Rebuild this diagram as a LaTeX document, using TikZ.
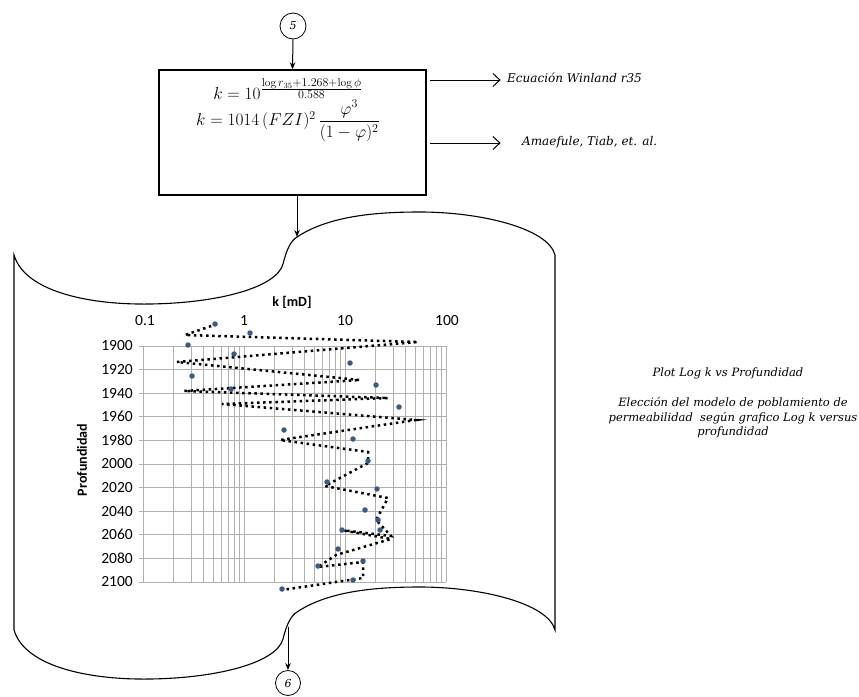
\documentclass[tikz,border=0pt]{standalone}
\usepackage{fontspec}
\usepackage{amsmath}
\usetikzlibrary{arrows.meta,calc}
\newfontfamily\chartfont{Carlito}
\newfontfamily\noteserif{DejaVu Serif}
\definecolor{dotblue}{RGB}{60,90,130}
\definecolor{gridgray}{RGB}{175,175,175}
\begin{document}
\begin{tikzpicture}[x=1pt,y=-1pt,
  vflow/.style={line width=1pt,-{Stealth[length=7pt,width=5.5pt]}},
  hflow/.style={line width=1pt,-{Straight Barb[length=7pt,width=13pt]}},
  connector/.style={circle,draw,line width=0.8pt,minimum size=26pt,inner sep=0pt,font=\noteserif\itshape\fontsize{11}{13}\selectfont},
  procbox/.style={draw,line width=1.3pt,minimum width=267pt,minimum height=125pt,inner sep=0pt},
  note/.style={font=\noteserif\itshape\fontsize{12}{14}\selectfont,inner sep=0pt},
  sidenote/.style={font=\noteserif\itshape\fontsize{11.5}{14.5}\selectfont,inner sep=0pt,align=center},
  docline/.style={line width=1.1pt},
  gridline/.style={draw=gridgray,line width=0.9pt},
  tick/.style={font=\chartfont\fontsize{15.5}{17}\selectfont,inner sep=0pt},
  axtitle/.style={font=\chartfont\bfseries\fontsize{14}{16}\selectfont,inner sep=0pt},
  datadot/.style={circle,fill=dotblue,inner sep=0pt,minimum size=5.5pt},
  trend/.style={line width=2.5pt,dash pattern=on 2.5pt off 3.6pt}
]
\useasboundingbox (0,0) rectangle (859,696);

% connector 5, process box
\node[connector] (c5) at (293,26) {5};
\node[procbox] (box) at (292.5,132.5) {};
\node (f1) at (288,89) {\fontsize{16.5}{18}\selectfont$k=10^{\frac{\scriptstyle\log r_{35}+1.268+\log\phi}{\scriptstyle 0.588}}$};
\node (f2) at (288,121) {\fontsize{16.5}{18}\selectfont$k=1014\,(FZI)^{2}\,\dfrac{\varphi^{3}}{(1-\varphi)^{2}}$};
\draw[vflow] (c5.south) -- (box.north);

% side labels
\node[note,anchor=west] (lab1) at (507,78) {Ecuación Winland r35};
\node[note,anchor=west] (lab2) at (522,142) {Amaefule, Tiab, et. al.};
\draw[hflow] ($(box.east |- lab1.west)+(3,2)$) -- ($(box.east |- lab1.west)+(74,2)$);
\draw[hflow] ($(box.east |- lab2.west)+(3,1)$) -- ($(box.east |- lab2.west)+(74,1)$);

% document (tape) shape
\coordinate (docin) at (297,237);
\coordinate (docout) at (288,627);
\draw[docline] (14,255) .. controls (25,292) and (90,305) .. (150,304)
  .. controls (220,303) and (277,287) .. (283,264)
  .. controls (287,248) and (291,241) .. (297,237)
  .. controls (330,215) and (380,212) .. (420,212)
  .. controls (480,212) and (548,228) .. (555,255)
  -- (555,630)
  .. controls (548,603) and (480,587) .. (420,587)
  .. controls (380,587) and (330,590) .. (297,612)
  .. controls (291,616) and (287,623) .. (283,639)
  .. controls (277,662) and (220,678) .. (150,679)
  .. controls (90,680) and (25,667) .. (14,630)
  -- cycle;
\draw[vflow] (box.south -| docin) -- (docin);
\node[connector,minimum size=25pt] (c6) at (288,683) {6};
\draw[vflow] (docout) -- (c6.north);

% chart grid
\foreach \d in {0,1,2}{
  \foreach \j in {1,...,9}{
    \pgfmathsetmacro\xx{143+101*(\d+log10(\j))}
    \draw[gridline] (\xx,346) -- (\xx,582);
  }
}
\draw[gridline] (446,346) -- (446,582);
\foreach \i in {0,...,10}{
  \pgfmathsetmacro\yy{346+23.6*\i}
  \pgfmathtruncatemacro\dep{1900+20*\i}
  \draw[gridline] (139,\yy) -- (446,\yy);
  \node[tick,anchor=east] (d\i) at (133,\yy) {\dep};
}
\node[tick] (t0) at (145,321) {0.1};
\node[tick] (t1) at (244,321) {1};
\node[tick] (t2) at (345,321) {10};
\node[tick] (t3) at (447,321) {100};
\node[axtitle] (xt) at (292,302) {k [mD]};
\node[axtitle,rotate=90] (yt) at (82,460) {Profundidad};

% trend line (dotted)
\draw[trend] (217,324) -- (185,335) -- (418,342) -- (177,362) -- (360,380)
  -- (184,391) -- (388,398) -- (222,404) -- (416,420) -- (280,440)
  -- (368,452) -- (368,463) -- (325,486) -- (388,498) -- (376,520)
  -- (391,536) -- (341,530) -- (391,539) -- (336,555) -- (318,567)
  -- (363,562) -- (363,578) -- (282,590);

% data points
\foreach \px/\py [count=\n] in {215/324,250/333,188/345,234/354,350/363,192/376,376/385,231/389,399/407,284/430,353/439,368/461,327/482,377/489,365/510,378/520,380/530,342/530,338/549,318/566,363/561,353/580,282/589}{
  \node[datadot] (p\n) at (\px,\py) {};
}

% right side notes
\node[sidenote] (plot) at (728,373) {Plot Log k vs Profundidad};
\node[sidenote] (choice) at (733,418) {Elección del modelo de poblamiento de\\permeabilidad \ según grafico Log k versus\\profundidad};
\end{tikzpicture}
\end{document}
